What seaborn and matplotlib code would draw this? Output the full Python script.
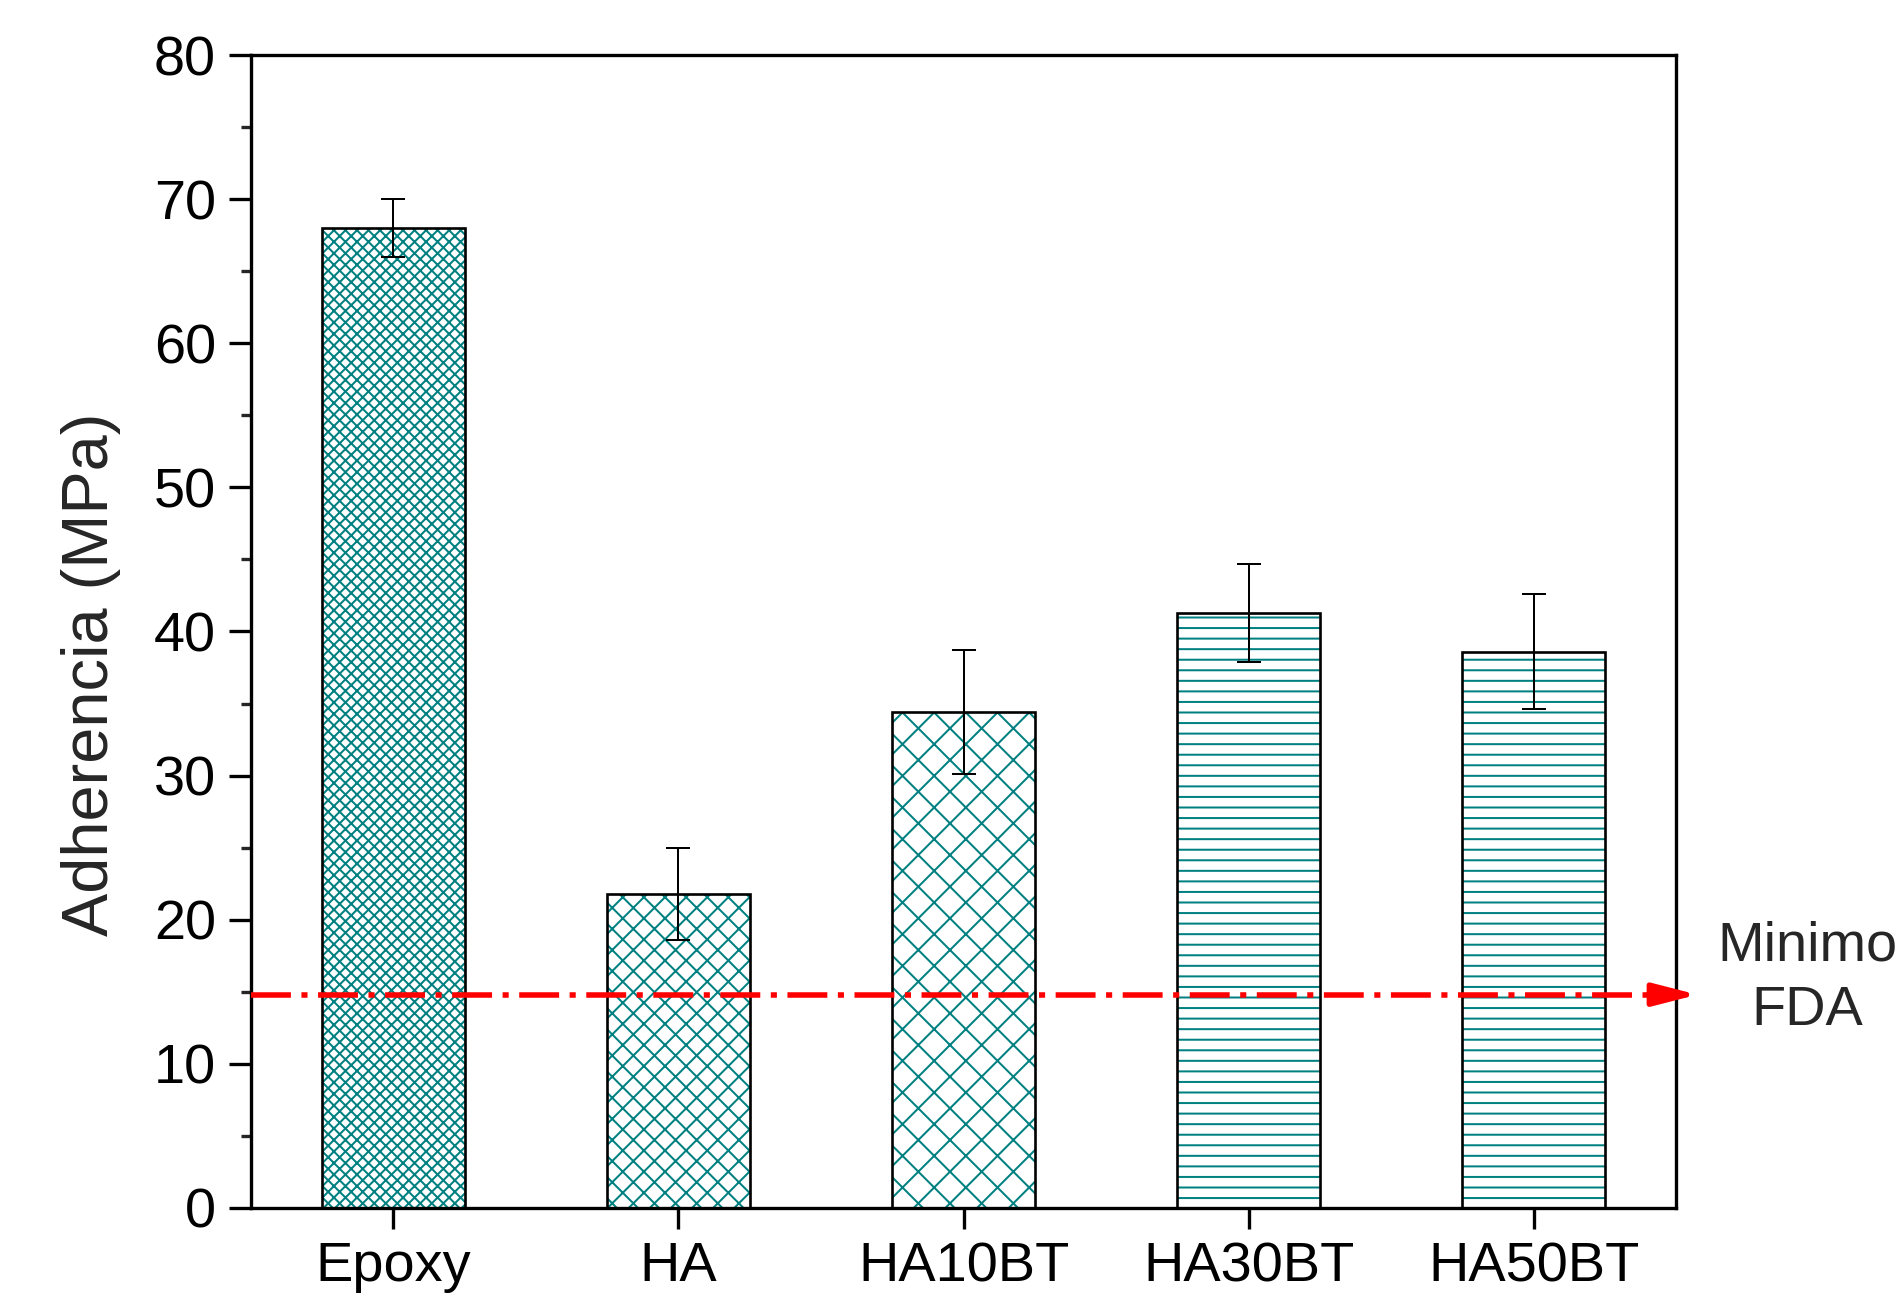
import numpy as np
import pandas as pd
import matplotlib
matplotlib.use("Agg")
import matplotlib.pyplot as plt
import seaborn as sns

# Adhesion strength of coatings (mean and standard deviation, MPa)
categories = ["Epoxy", "HA", "HA10BT", "HA30BT", "HA50BT"]
adherence = [68.0, 21.8, 34.4, 41.3, 38.6]
adherence_sd = [2.0, 3.2, 4.3, 3.4, 4.0]
fda_minimum = 14.8
y_ticks = [0, 10, 20, 30, 40, 50, 60, 70, 80]

# Hatch pattern per sample
hatches = ["x" * 11, "x" * 6, "x" * 4, "-" * 6, "-" * 6]

TEAL = "#008080"
DPI = 380

sns.set_theme(style="ticks")
plt.rcParams["font.family"] = ["Liberation Sans", "DejaVu Sans"]
plt.rcParams["hatch.linewidth"] = 0.38
plt.rcParams["hatch.color"] = TEAL

fig = plt.figure(figsize=(1904 / DPI, 1316 / DPI), dpi=DPI)
ax = fig.add_axes([0.1318, 0.0821, 0.8803 - 0.1318, 0.9582 - 0.0821])

df = pd.DataFrame({"sample": categories, "adherence": adherence})
positions = np.arange(len(categories))

# Hatched fill
sns.barplot(data=df, x="sample", y="adherence", ax=ax, color="white",
            width=0.5, errorbar=None, saturation=1)
for patch, h in zip(ax.patches, hatches):
    patch.set_hatch(h)
    patch.set_edgecolor(TEAL)
    patch.set_linewidth(0)

# Black outline of the bars
ax.bar(positions, adherence, width=0.5, fill=False, edgecolor="black",
       linewidth=0.5, zorder=3)

# Standard deviation
ax.errorbar(positions, adherence, yerr=adherence_sd, fmt="none",
            ecolor="black", elinewidth=0.38, capsize=2.3, capthick=0.38,
            zorder=4)

# FDA minimum requirement line with arrow
ax.plot([-0.5, 4.44], [fda_minimum, fda_minimum], color="red", lw=1.05,
        linestyle=(0, (7.2, 1.9, 1.1, 1.9)), clip_on=False, zorder=5,
        solid_capstyle="butt", dash_capstyle="butt")
ax.annotate("", xy=(4.575, fda_minimum), xytext=(4.40, fda_minimum),
            arrowprops=dict(arrowstyle="-|>,head_length=0.7,head_width=0.18",
                            color="red", lw=1.05, shrinkA=0, shrinkB=0,
                            mutation_scale=10),
            annotation_clip=False, zorder=5)
ax.text(4.96, fda_minimum + 1.1, "Minimo\nFDA", ha="center", va="center",
        fontsize=10.6, linespacing=1.3, clip_on=False)

# Axes styling
ax.set_xlim(-0.5, 4.5)
ax.set_ylim(0, 80)
ax.set_yticks(y_ticks)
ax.set_yticks(np.arange(5, 80, 10), minor=True)
ax.set_xticks(positions)
ax.set_xticklabels(categories)
ax.set_xlabel("")
ax.set_ylabel("Adherencia (MPa)", fontsize=12.3, va="center", ha="center")
ax.yaxis.set_label_coords(-0.112, 0.463)

for side in ["left", "right", "top", "bottom"]:
    ax.spines[side].set_visible(True)
    ax.spines[side].set_linewidth(0.63)
    ax.spines[side].set_color("black")

ax.tick_params(axis="y", which="major", direction="out", length=4.2,
               width=0.63, labelsize=10.6, pad=2.4, colors="black",
               right=False)
ax.tick_params(axis="y", which="minor", direction="out", length=1.9,
               width=0.63, right=False, left=True)
ax.tick_params(axis="x", which="major", direction="out", length=4.0,
               width=0.63, labelsize=10.6, pad=2.3, colors="black", top=False)

fig.savefig("out.png", dpi=DPI, facecolor="white")
